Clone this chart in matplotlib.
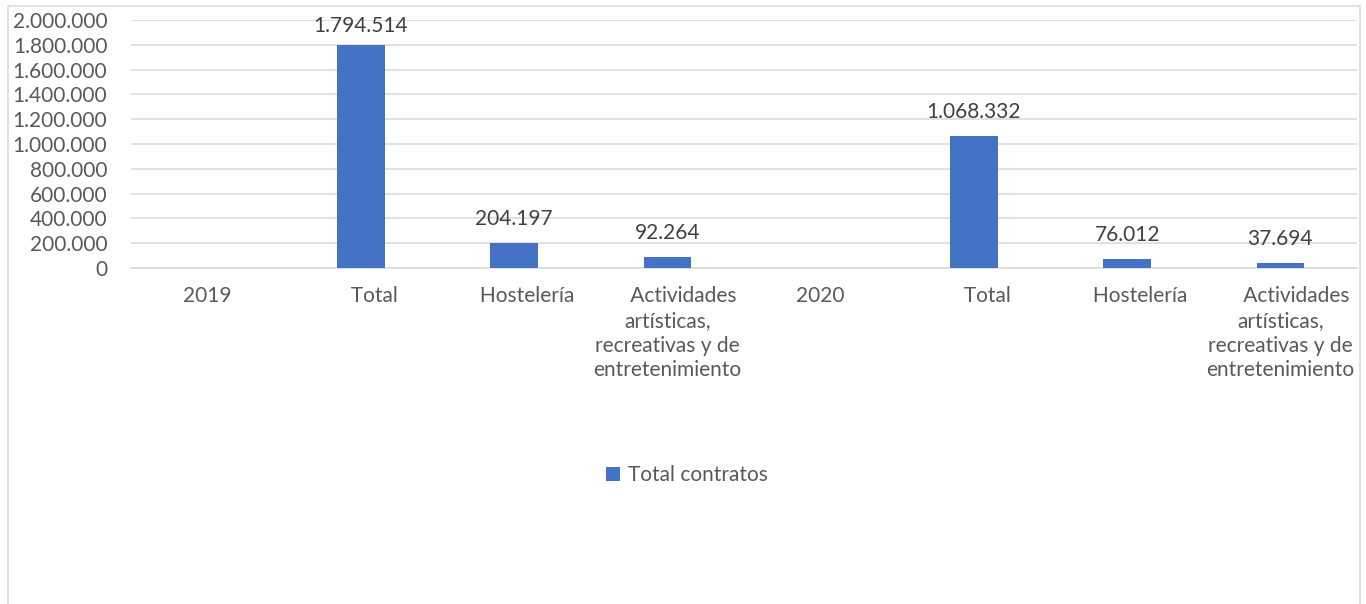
import matplotlib.pyplot as plt
from matplotlib.patches import Rectangle
from matplotlib.ticker import FuncFormatter, MultipleLocator

# contratos registrados por sector, 2019 vs 2020
categorias = [
    "2019",
    "     Total",
    "     Hostelería",
    "      Actividades\nartísticas,\nrecreativas y de\nentretenimiento",
    "2020",
    "     Total",
    "     Hostelería",
    "      Actividades\nartísticas,\nrecreativas y de\nentretenimiento",
]
total_contratos = [0, 1794514, 204197, 92264, 0, 1068332, 76012, 37694]

AZUL = "#4472C4"
GRIS_TEXTO = "#595959"
GRIS_ETIQUETA = "#404040"
GRIS_LINEA = "#D9D9D9"
FUENTE = "Lato"
TAM = 15.0

W, H = 1366, 604


def miles(v, _pos=None):
    return f"{int(round(v)):,}".replace(",", ".")


fig = plt.figure(figsize=(W / 100, H / 100), dpi=100)
fig.patch.set_facecolor("white")

# area del grafico en pixeles -> fracciones de figura
x0, x1 = 131, 1357
y_top, y_cero = 20, 268
ax = fig.add_axes([x0 / W, 1 - y_cero / H, (x1 - x0) / W, (y_cero - y_top) / H])

pos = list(range(len(categorias)))
barras = ax.bar(pos, total_contratos, width=0.31, color=AZUL, zorder=3,
                label="Total contratos")

ax.set_xlim(-0.5, len(categorias) - 0.5)
ax.set_ylim(0, 2000000)
ax.yaxis.set_major_locator(MultipleLocator(200000))
ax.yaxis.set_major_formatter(FuncFormatter(miles))
ax.grid(axis="y", color=GRIS_LINEA, linewidth=1.1, zorder=0)
ax.set_axisbelow(True)

for lado in ["top", "right", "left"]:
    ax.spines[lado].set_visible(False)
ax.spines["bottom"].set_color(GRIS_LINEA)
ax.spines["bottom"].set_linewidth(1.1)

ax.set_xticks(pos)
ax.set_xticklabels(categorias, fontsize=TAM, color=GRIS_TEXTO, family=FUENTE,
                   linespacing=1.3, va="top")
ax.tick_params(axis="x", length=0, pad=13)
ax.tick_params(axis="y", length=0, pad=17, labelsize=TAM, labelcolor=GRIS_TEXTO)
for t in ax.get_yticklabels():
    t.set_family(FUENTE)

# etiquetas de datos (sin mostrar las categorias de año, que valen 0)
tope = 1900000
for x, v in zip(pos, total_contratos):
    if v <= 0:
        continue
    y = min(v + 145000, tope)
    ax.text(x, y, miles(v), ha="center", va="baseline", fontsize=TAM,
            color=GRIS_ETIQUETA, family=FUENTE)

fig.legend(handles=[barras], labels=["Total contratos"], loc="center",
           bbox_to_anchor=(687 / W, 1 - 475 / H), frameon=False,
           prop={"family": FUENTE, "size": TAM}, labelcolor=GRIS_TEXTO,
           handlelength=0.68, handleheight=0.68, handletextpad=0.4)

# marco del area del grafico
fig.add_artist(Rectangle((7.5 / W, -0.1), (1359.5 - 7.5) / W, 1.1 - 6.5 / H,
                         transform=fig.transFigure, fill=False,
                         edgecolor=GRIS_LINEA, linewidth=1.1, clip_on=False))

fig.savefig("out.png", dpi=100, facecolor="white")
